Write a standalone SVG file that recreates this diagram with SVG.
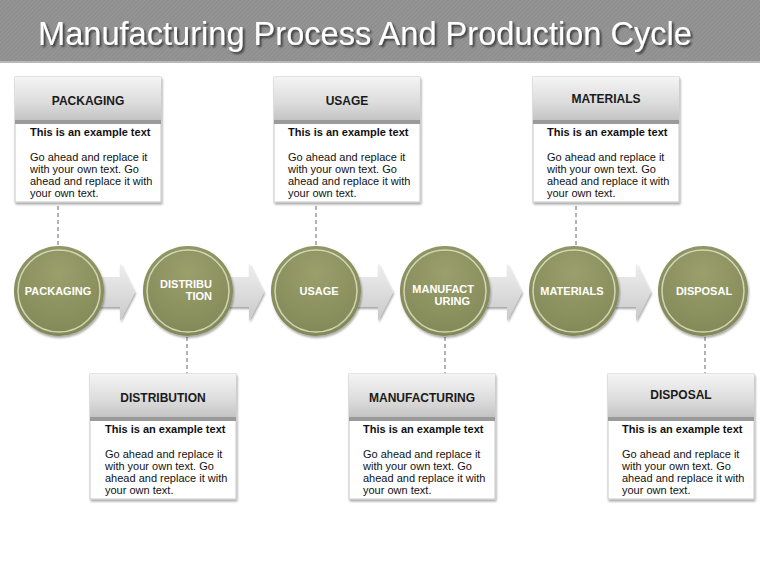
<svg xmlns="http://www.w3.org/2000/svg" width="760" height="570" viewBox="0 0 760 570">
<defs>
  <pattern id="hatch" width="3" height="3" patternUnits="userSpaceOnUse" patternTransform="rotate(45)">
    <rect width="3" height="3" fill="#8f8f8f"/>
    <rect width="1" height="3" fill="#979797"/>
  </pattern>
  <linearGradient id="hdr" x1="0" y1="0" x2="0" y2="1">
    <stop offset="0" stop-color="#f4f4f4"/>
    <stop offset="0.6" stop-color="#dcdcdc"/>
    <stop offset="1" stop-color="#c4c4c4"/>
  </linearGradient>
  <radialGradient id="ball" cx="0.5" cy="0.3" r="0.75">
    <stop offset="0" stop-color="#9a9f6c"/>
    <stop offset="1" stop-color="#818755"/>
  </radialGradient>
  <linearGradient id="arr" x1="0" y1="0" x2="0" y2="1">
    <stop offset="0" stop-color="#eeeeee"/>
    <stop offset="0.5" stop-color="#dddddd"/>
    <stop offset="1" stop-color="#c9c9c9"/>
  </linearGradient>
  <filter id="sh" x="-10%" y="-10%" width="130%" height="130%">
    <feGaussianBlur in="SourceAlpha" stdDeviation="1.2"/>
    <feOffset dx="1" dy="1.5" result="b"/>
    <feComponentTransfer><feFuncA type="linear" slope="0.35"/></feComponentTransfer>
    <feMerge><feMergeNode/><feMergeNode in="SourceGraphic"/></feMerge>
  </filter>
  <filter id="tsh" x="-5%" y="-20%" width="110%" height="150%">
    <feGaussianBlur in="SourceAlpha" stdDeviation="0.8"/>
    <feOffset dx="1.5" dy="1.5"/>
    <feComponentTransfer><feFuncA type="linear" slope="0.6"/></feComponentTransfer>
    <feMerge><feMergeNode/><feMergeNode in="SourceGraphic"/></feMerge>
  </filter>
  <g id="box">
    <rect x="0" y="0" width="146" height="125" fill="#ffffff" stroke="#c8c8c8" stroke-width="1"/>
    <rect x="0" y="0" width="146" height="43" fill="url(#hdr)"/>
    <rect x="0" y="43" width="146" height="4" fill="#9a9a9a"/>
  </g>
</defs>
<style>
  .title{font-family:"Liberation Sans",Arial,sans-serif;font-size:33px;fill:#ffffff}
  .bt{font-family:"Liberation Sans",Arial,sans-serif;font-size:12px;font-weight:bold;fill:#1a1a1a;text-anchor:middle}
  .sub{font-family:"Liberation Sans",Arial,sans-serif;font-size:11px;font-weight:bold;fill:#111111}
  .body{font-family:"Liberation Sans",Arial,sans-serif;font-size:11px;fill:#111111}
  .ct{font-family:"Liberation Sans",Arial,sans-serif;font-size:11px;font-weight:bold;fill:#ffffff}
  .dash{stroke:#666666;stroke-width:1;stroke-dasharray:4,3;fill:none}
  .ring{fill:none;stroke:#e3e6cf;stroke-width:1.5;opacity:0.8}
</style>
<rect x="0" y="0" width="760" height="570" fill="#ffffff"/>
<rect x="0" y="0" width="760" height="62" fill="url(#hatch)"/>
<rect x="0" y="61" width="760" height="2" fill="#b8b8b8"/>
<text class="title" x="38" y="45" textLength="654" lengthAdjust="spacingAndGlyphs" filter="url(#tsh)">Manufacturing Process And Production Cycle</text>

<g id="connectors">
  <line class="dash" x1="58" y1="206" x2="58" y2="246"/>
  <line class="dash" x1="316" y1="206" x2="316" y2="246"/>
  <line class="dash" x1="576" y1="206" x2="576" y2="246"/>
  <line class="dash" x1="187" y1="337" x2="187" y2="373"/>
  <line class="dash" x1="445" y1="337" x2="445" y2="373"/>
  <line class="dash" x1="705" y1="337" x2="705" y2="373"/>
  <g filter="url(#sh)" fill="url(#arr)">
    <polygon points="98,277 120,277 120,263 135,292 120,321 120,307 98,307"/>
    <polygon points="227,277 249,277 249,263 264,292 249,321 249,307 227,307"/>
    <polygon points="356,277 378,277 378,263 393,292 378,321 378,307 356,307"/>
    <polygon points="485,277 507,277 507,263 522,292 507,321 507,307 485,307"/>
    <polygon points="614,277 636,277 636,263 651,292 636,321 636,307 614,307"/>
  </g>
</g>

<g id="packaging-box">
  <use href="#box" x="15" y="77" filter="url(#sh)"/>
  <text class="bt" x="88" y="105">PACKAGING</text>
  <text class="sub" x="30" y="136">This is an example text</text>
  <text class="body" x="30" y="161">Go ahead and replace it</text>
  <text class="body" x="30" y="173">with your own text. Go</text>
  <text class="body" x="30" y="185">ahead and replace it with</text>
  <text class="body" x="30" y="197">your own text.</text>
</g>
<g id="usage-box">
  <use href="#box" x="274" y="77" filter="url(#sh)"/>
  <text class="bt" x="347" y="105">USAGE</text>
  <text class="sub" x="288" y="136">This is an example text</text>
  <text class="body" x="288" y="161">Go ahead and replace it</text>
  <text class="body" x="288" y="173">with your own text. Go</text>
  <text class="body" x="288" y="185">ahead and replace it with</text>
  <text class="body" x="288" y="197">your own text.</text>
</g>
<g id="materials-box">
  <use href="#box" x="533" y="77" filter="url(#sh)"/>
  <text class="bt" x="606" y="103">MATERIALS</text>
  <text class="sub" x="547" y="136">This is an example text</text>
  <text class="body" x="547" y="161">Go ahead and replace it</text>
  <text class="body" x="547" y="173">with your own text. Go</text>
  <text class="body" x="547" y="185">ahead and replace it with</text>
  <text class="body" x="547" y="197">your own text.</text>
</g>
<g id="distribution-box">
  <use href="#box" x="90" y="374" filter="url(#sh)"/>
  <text class="bt" x="163" y="402">DISTRIBUTION</text>
  <text class="sub" x="105" y="433">This is an example text</text>
  <text class="body" x="105" y="458">Go ahead and replace it</text>
  <text class="body" x="105" y="470">with your own text. Go</text>
  <text class="body" x="105" y="482">ahead and replace it with</text>
  <text class="body" x="105" y="494">your own text.</text>
</g>
<g id="manufacturing-box">
  <use href="#box" x="349" y="374" filter="url(#sh)"/>
  <text class="bt" x="422" y="402">MANUFACTURING</text>
  <text class="sub" x="363" y="433">This is an example text</text>
  <text class="body" x="363" y="458">Go ahead and replace it</text>
  <text class="body" x="363" y="470">with your own text. Go</text>
  <text class="body" x="363" y="482">ahead and replace it with</text>
  <text class="body" x="363" y="494">your own text.</text>
</g>
<g id="disposal-box">
  <use href="#box" x="608" y="374" filter="url(#sh)"/>
  <text class="bt" x="681" y="399">DISPOSAL</text>
  <text class="sub" x="622" y="433">This is an example text</text>
  <text class="body" x="622" y="458">Go ahead and replace it</text>
  <text class="body" x="622" y="470">with your own text. Go</text>
  <text class="body" x="622" y="482">ahead and replace it with</text>
  <text class="body" x="622" y="494">your own text.</text>
</g>

<g id="packaging-circle">
  <circle cx="59" cy="291" r="45" fill="url(#ball)" filter="url(#sh)"/>
  <circle class="ring" cx="59" cy="291" r="41"/>
  <text class="ct" x="58" y="295" text-anchor="middle">PACKAGING</text>
</g>
<g id="distribution-circle">
  <circle cx="188" cy="291" r="45" fill="url(#ball)" filter="url(#sh)"/>
  <circle class="ring" cx="188" cy="291" r="41"/>
  <text class="ct" x="212" y="288" text-anchor="end">DISTRIBU</text>
  <text class="ct" x="212" y="300" text-anchor="end">TION</text>
</g>
<g id="usage-circle">
  <circle cx="316" cy="291" r="45" fill="url(#ball)" filter="url(#sh)"/>
  <circle class="ring" cx="316" cy="291" r="41"/>
  <text class="ct" x="319" y="295" text-anchor="middle">USAGE</text>
</g>
<g id="manufacturing-circle">
  <circle cx="445" cy="291" r="45" fill="url(#ball)" filter="url(#sh)"/>
  <circle class="ring" cx="445" cy="291" r="41"/>
  <text class="ct" x="474" y="293" text-anchor="end">MANUFACT</text>
  <text class="ct" x="470" y="305" text-anchor="end">URING</text>
</g>
<g id="materials-circle">
  <circle cx="574" cy="291" r="45" fill="url(#ball)" filter="url(#sh)"/>
  <circle class="ring" cx="574" cy="291" r="41"/>
  <text class="ct" x="572" y="295" text-anchor="middle">MATERIALS</text>
</g>
<g id="disposal-circle">
  <circle cx="703" cy="291" r="45" fill="url(#ball)" filter="url(#sh)"/>
  <circle class="ring" cx="703" cy="291" r="41"/>
  <text class="ct" x="704" y="295" text-anchor="middle">DISPOSAL</text>
</g>
</svg>
